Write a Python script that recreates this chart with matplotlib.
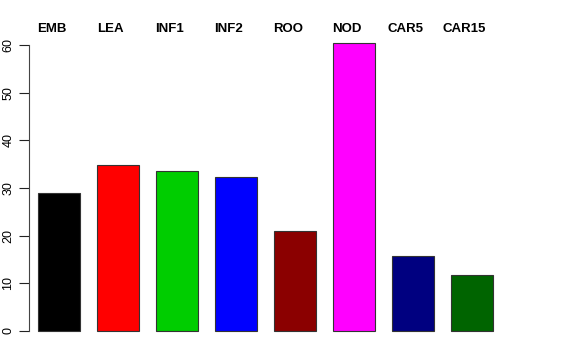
import matplotlib
matplotlib.use("Agg")
import matplotlib.pyplot as plt

categories = ["EMB", "LEA", "INF1", "INF2", "ROO", "NOD", "CAR5", "CAR15"]
values = [28.9, 34.8, 33.6, 32.3, 21.0, 60.4, 15.7, 11.7]
colors = ["#000000", "#FF0000", "#00CD00", "#0000FF", "#8B0000", "#FF00FF", "#000080", "#006400"]
yticks = [0, 10, 20, 30, 40, 50, 60]

plt.rcParams['font.family'] = ['Liberation Sans', 'DejaVu Sans']

W, H = 576, 360
fig = plt.figure(figsize=(W / 100, H / 100), dpi=100)

# axes in pixel geometry
left_px, right_px = 29, 560
top_px, bottom_px = 20, 345
ax = fig.add_axes([left_px / W, 1 - bottom_px / H, (right_px - left_px) / W, (bottom_px - top_px) / H])

ppu_x = 42.1
a = 0.4 - (38 - left_px) / ppu_x
ax.set_xlim(a, a + (right_px - left_px) / ppu_x)
ppu_y = (331 - 45) / 60.0
ax.set_ylim(-(bottom_px - 331) / ppu_y, 60 + (45 - top_px) / ppu_y)

space = 0.4
xs = [space + i * (1 + space) + 0.5 for i in range(len(values))]
ax.bar(xs, values, width=1.0, color=colors, edgecolor="#333333", linewidth=0.8)

label_y = (331 - 29) / ppu_y
for x, lab in zip(xs, categories):
    ax.text(x - 0.17, label_y, lab,
            ha="center", va="center", fontsize=9.5, fontweight="bold", clip_on=False)

for s in ["top", "right", "bottom"]:
    ax.spines[s].set_visible(False)
ax.spines["left"].set_bounds(0, 60)
ax.spines["left"].set_color("#444444")
ax.set_xticks([])
ax.set_yticks(yticks)
ax.set_yticklabels([str(t) for t in yticks], rotation=90, va="center", fontsize=9)
ax.tick_params(axis="y", length=7, width=0.8, pad=3.5, color="#222222")

fig.savefig("out.png", dpi=100)
